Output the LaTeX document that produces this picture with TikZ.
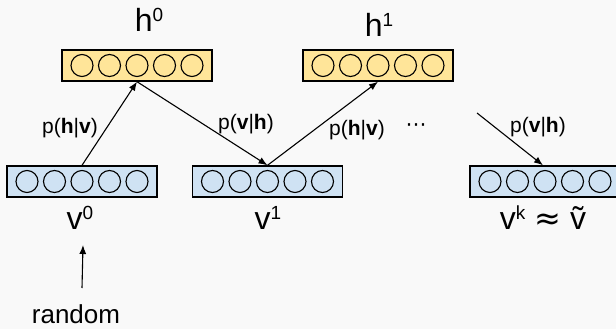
\documentclass[tikz,border=0pt]{standalone}
\usepackage{fontspec}
\setmainfont{Liberation Sans}
\newfontfamily\symfont{DejaVu Sans}
\usetikzlibrary{arrows.meta}
\definecolor{bgcol}{HTML}{F9F9F9}
\definecolor{hyel}{HTML}{FFE599}
\definecolor{vblu}{HTML}{CFE2F3}
\newcommand{\supx}[1]{\raisebox{10pt}{\fontsize{19}{19}\selectfont #1}}
\newcommand{\layerrow}[3]{%
  \node[layer, fill=#3] (#1) at #2 {};
  \foreach \i/\dx in {1/-55,2/-27.5,3/0,4/27.5,5/55}
    \node[unit] (#1c\i) at ([xshift=\dx pt]#1.center) {};
}
\begin{document}
\begin{tikzpicture}[x=1pt,y=-1pt,
  layer/.style={draw=black, line width=1.4pt, minimum width=150pt, minimum height=31pt, inner sep=0pt},
  unit/.style={draw=black, line width=1.1pt, circle, minimum size=22pt, inner sep=0pt},
  conn/.style={line width=1.1pt, -{Latex[length=9pt,width=7pt]}},
  big/.style={font=\fontsize{32}{32}\selectfont, inner sep=0pt, anchor=base},
  cond/.style={font=\fontsize{21}{21}\selectfont, inner sep=0pt, anchor=base},
  small/.style={font=\fontsize{26}{26}\selectfont, inner sep=0pt, anchor=base}]
\fill[bgcol] (0,0) rectangle (616,329);
\useasboundingbox (0,0) rectangle (616,329);

\layerrow{h0}{(137,65.5)}{hyel}
\layerrow{h1}{(378,65.5)}{hyel}
\layerrow{v0}{(82,181.5)}{vblu}
\layerrow{v1}{(267.5,181.5)}{vblu}
\layerrow{vk}{(545,181.5)}{vblu}

\node[big] (h0lab) at (149,32) {h\supx{0}};
\node[big] (h1lab) at (379,37) {h\supx{1}};
\node[big] (v0lab) at (80,229) {v\supx{0}};
\node[big] (v1lab) at (268,229) {v\supx{1}};
\node[big] (vklab) at (543,229) {v\supx{k} {\symfont ≈} ṽ};

\node[cond] (l1) at (70,133) {p(\textbf{h}|\textbf{v})};
\node[cond] (l2) at (246,129) {p(\textbf{v}|\textbf{h})};
\node[cond] (l3) at (357,135) {p(\textbf{h}|\textbf{v})};
\node[cond] (dots) at (416,131) {\symfont ⋯};
\node[cond] (l4) at (538,132) {p(\textbf{v}|\textbf{h})};

\node[small] (rnd) at (76,323) {random};

\coordinate (vkin) at (477,113);
\coordinate (rtail) at (82,288);
\coordinate (rhead) at (83,245);

\draw[conn] (v0.north) -- (h0.south);
\draw[conn] (h0.south) -- (v1.north);
\draw[conn] (v1.north) -- (h1.south);
\draw[conn] (vkin) -- ([xshift=-2pt]vk.north);
\draw[conn] (rtail) -- (rhead);
\end{tikzpicture}
\end{document}
